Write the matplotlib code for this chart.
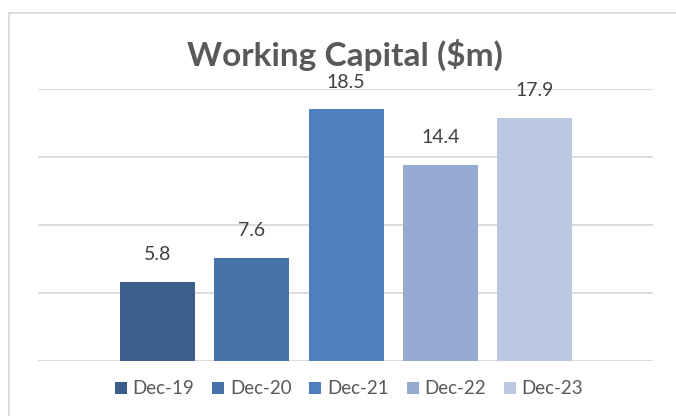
import matplotlib
matplotlib.use("Agg")
import matplotlib.pyplot as plt
from matplotlib.lines import Line2D
from matplotlib.patches import Patch

series = ["Dec-19", "Dec-20", "Dec-21", "Dec-22", "Dec-23"]
values = [5.8, 7.6, 18.5, 14.4, 17.9]
colors = ["#3B5F8C", "#4472A9", "#4E80BD", "#95AAD0", "#BAC7E1"]
yticks = [0, 5, 10, 15, 20]
title = "Working Capital ($m)"

plt.rcParams['font.family'] = ['Lato', 'DejaVu Sans']

W, H = 676, 416
fig = plt.figure(figsize=(W / 100, H / 100), dpi=100)
ax = fig.add_axes([38 / W, 1 - 361 / H, (653 - 38) / W, (361 - 89) / H])

x = list(range(len(series)))
bars = ax.bar(x, values, width=75 / 94.25, color=colors, zorder=3)
for xi, v in zip(x, values):
    ax.annotate(f"{v:.1f}", (xi, v), xytext=(0, 13.5), textcoords="offset points",
                ha="center", va="bottom", fontsize=14, color="#404040")

ax.set_xlim(2 - 308 / 94.25, 2 + 307 / 94.25)
ax.set_ylim(0, 20)
ax.set_yticks(yticks)
ax.yaxis.grid(True, color="#D9D9D9", linewidth=1.3, zorder=0)
ax.set_xticks([])
ax.tick_params(left=False, labelleft=False)
for s in ax.spines.values():
    s.set_visible(False)
ax.set_clip_on(False)

fig.text(345 / W, 1 - 66 / H, title, ha="center", va="baseline",
         fontsize=24, fontweight="bold", color="#595959")

handles = [Patch(facecolor=c, edgecolor="none") for c in colors]
fig.legend(handles, series, loc="center", bbox_to_anchor=(349 / W, 1 - 389 / H),
           ncol=5, frameon=False, fontsize=13.5, labelcolor="#595959",
           handlelength=0.65, handleheight=0.65, handletextpad=0.3,
           columnspacing=0.95)

fig.add_artist(Line2D([9 / W, 9 / W], [0, 1 - 13 / H], color="#D9D9D9", linewidth=1.3,
                      transform=fig.transFigure))
fig.add_artist(Line2D([9 / W, 1], [1 - 13 / H, 1 - 13 / H], color="#D9D9D9", linewidth=1.3,
                      transform=fig.transFigure))

fig.savefig("out.png", dpi=100, facecolor="white")
